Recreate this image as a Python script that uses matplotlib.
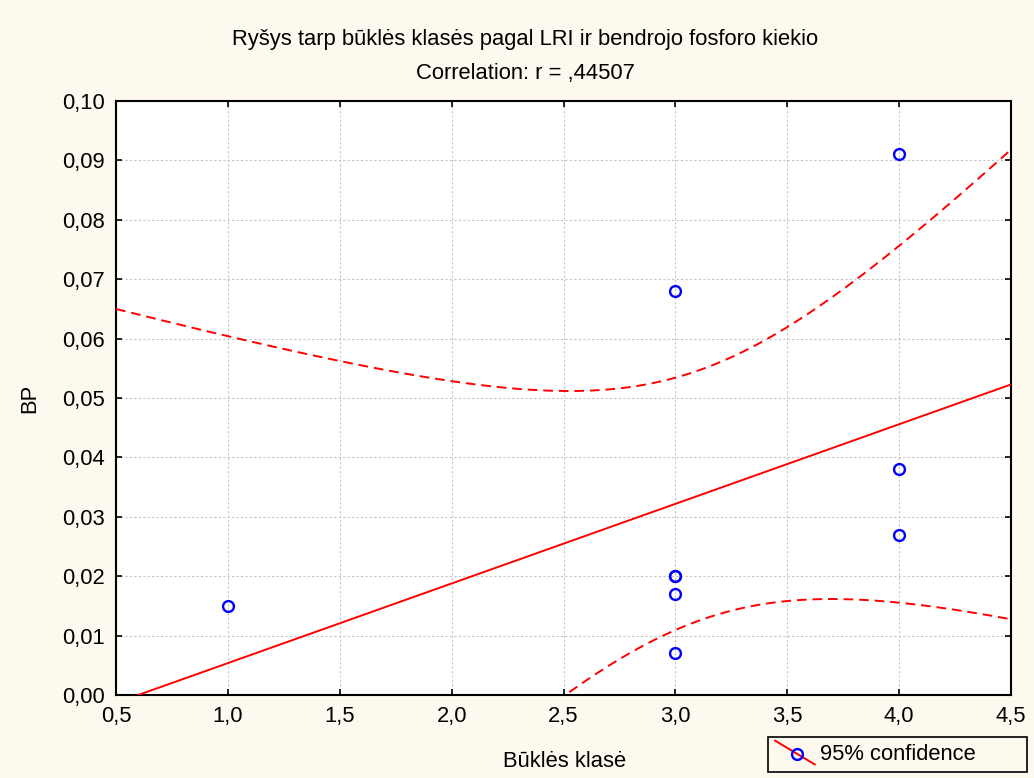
import numpy as np
import matplotlib
matplotlib.use("Agg")
import matplotlib.pyplot as plt
from matplotlib.lines import Line2D
from matplotlib.legend_handler import HandlerBase
from matplotlib.ticker import FixedLocator, FuncFormatter

plt.rcParams['font.family'] = ['Liberation Sans', 'DejaVu Sans']

# ---- data ----
class_x = [1, 3, 3, 3, 3, 3, 4, 4, 4]
bp_y = [0.015, 0.068, 0.020, 0.020, 0.017, 0.007, 0.091, 0.038, 0.027]
x_ticks = [0.5, 1.0, 1.5, 2.0, 2.5, 3.0, 3.5, 4.0, 4.5]
y_ticks = [0.00, 0.01, 0.02, 0.03, 0.04, 0.05, 0.06, 0.07, 0.08, 0.09, 0.10]
title1 = "Ryšys tarp būklės klasės pagal LRI ir bendrojo fosforo kiekio"
title2 = "Correlation: r = ,44507"
x_label = "Būklės klasė"
y_label = "BP"
legend_label = "95% confidence"
t_975 = {7: 2.364624}

W, H, DPI = 1034, 778, 100
BG = "#FDF9EE"
FS = 15.8

x = np.array(class_x, float)
y = np.array(bp_y, float)
n = len(x)
xm, ym = x.mean(), y.mean()
sxx = ((x - xm) ** 2).sum()
sxy = ((x - xm) * (y - ym)).sum()
b = sxy / sxx
a = ym - b * xm
resid = y - (a + b * x)
s = np.sqrt((resid ** 2).sum() / (n - 2))
tq = t_975[n - 2]

xs = np.linspace(x_ticks[0], x_ticks[-1], 300)
yhat = a + b * xs
half = tq * s * np.sqrt(1.0 / n + (xs - xm) ** 2 / sxx)

fig = plt.figure(figsize=(W / DPI, H / DPI), dpi=DPI, facecolor=BG)
L, R, T, B = 116, 1011, 101, 695
ax = fig.add_axes([L / W, 1 - B / H, (R - L) / W, (B - T) / H])
ax.set_facecolor("white")

ax.set_xlim(x_ticks[0], x_ticks[-1])
ax.set_ylim(y_ticks[0], y_ticks[-1])
ax.xaxis.set_major_locator(FixedLocator(x_ticks))
ax.yaxis.set_major_locator(FixedLocator(y_ticks))
ax.xaxis.set_major_formatter(FuncFormatter(lambda v, p: f"{v:.1f}".replace(".", ",")))
ax.yaxis.set_major_formatter(FuncFormatter(lambda v, p: f"{v:.2f}".replace(".", ",")))

ax.grid(True, color="#c4c4c4", linestyle=(0, (2.0, 2.0)), linewidth=0.8)
ax.set_axisbelow(True)

for sp in ax.spines.values():
    sp.set_linewidth(1.5)
    sp.set_color("black")
ax.tick_params(direction="in", length=4, width=1.2, top=True, right=True,
               labelsize=FS, colors="black", pad=8)

ax.plot(xs, yhat, color="#FF0000", lw=1.4, zorder=3)
ax.plot(xs, yhat + half, color="#FF0000", lw=1.4, ls=(0, (5, 3)), zorder=3)
ax.plot(xs, yhat - half, color="#FF0000", lw=1.4, ls=(0, (5, 3)), zorder=3)
ax.plot(x, y, linestyle="none", marker="o", markersize=7.8, mfc="none",
        mec="#0000FF", mew=1.7, zorder=4, clip_on=False)

cx = 525 / W
fig.text(cx, 1 - 45 / H, title1, ha="center", va="baseline", fontsize=FS)
fig.text(cx, 1 - 79 / H, title2, ha="center", va="baseline", fontsize=FS)
fig.text(565 / W, 1 - 767 / H, x_label, ha="center", va="baseline", fontsize=FS)
fig.text(30 / W, 1 - 398 / H, y_label, ha="center", va="center", fontsize=FS, rotation=90)


class DiagHandler(HandlerBase):
    def create_artists(self, legend, orig_handle, xdescent, ydescent, width,
                       height, fontsize, trans):
        x0, x1 = -xdescent, -xdescent + width
        yc = -ydescent + height / 2
        dy = 0.3 * width
        line = Line2D([x0, x1], [yc + dy, yc - dy],
                      color="#FF0000", lw=1.4, transform=trans)
        xc = 0.5 * (x0 + x1) + 0.04 * width
        ycm = yc - dy * 0.08
        mk = Line2D([xc], [ycm], marker="o", markersize=7.8,
                    mfc="none", mec="#0000FF", mew=1.7, linestyle="none",
                    transform=trans)
        return [line, mk]


proxy = Line2D([], [], color="#FF0000")
leg = fig.legend([proxy], [legend_label], handler_map={Line2D: DiagHandler()},
                 loc="upper left",
                 bbox_to_anchor=(768 / W, 1 - 737 / H, (1027 - 768) / W, 0),
                 mode="expand", fontsize=FS, frameon=True, fancybox=False,
                 edgecolor="black", facecolor=BG, framealpha=1,
                 handlelength=1.8, handletextpad=0.25, borderpad=0.33,
                 borderaxespad=0)
leg.get_frame().set_linewidth(1.2)

fig.savefig("out.png", dpi=DPI, facecolor=BG)
